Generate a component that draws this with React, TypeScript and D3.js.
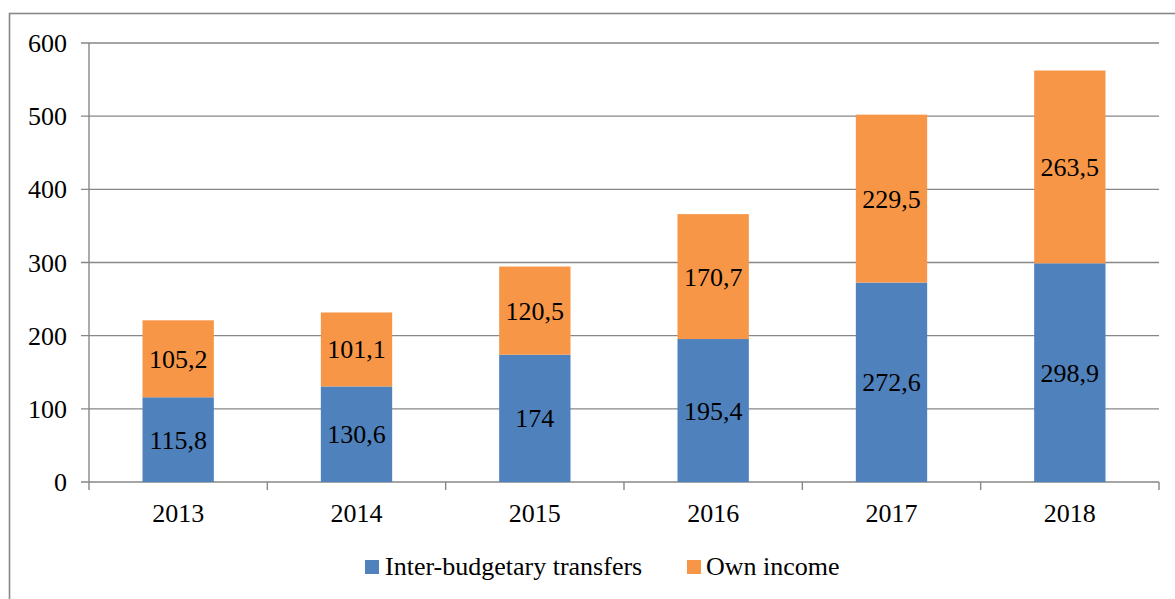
import React from "react";
import * as d3 from "d3";

const years = ["2013", "2014", "2015", "2016", "2017", "2018"];
const transfers = [115.8, 130.6, 174, 195.4, 272.6, 298.9];
const ownIncome = [105.2, 101.1, 120.5, 170.7, 229.5, 263.5];
const yTicks = [0, 100, 200, 300, 400, 500, 600];
const seriesNames = ["Inter-budgetary transfers", "Own income"];
const seriesColors = ["#4f81bd", "#f79646"];

const W = 1175;
const H = 599;
const margin = { top: 43, right: 16, bottom: 117, left: 89 };
const gray = "#878787";
const FONT = "Liberation Serif";

const fmt = (v: number) => String(v).replace(".", ",");

const Label = (props: any) => (
  <text
    fontFamily={FONT}
    fontSize={26}
    fill="#000"
    style={{ fontFamily: "'Liberation Serif'" }}
    {...props}
  />
);

const App = () => {
  const x = d3
    .scaleBand()
    .domain(years)
    .range([margin.left, W - margin.right])
    .paddingInner(0.6)
    .paddingOuter(0.3);

  const y = d3
    .scaleLinear()
    .domain([0, 600])
    .range([H - margin.bottom, margin.top]);

  const rows = years.map((yr, i) => ({ year: yr, t: transfers[i], o: ownIncome[i] }));
  const stacked = d3.stack<any>().keys(["t", "o"])(rows);

  const step = x.step();
  const x0 = margin.left;
  const x1 = W - margin.right;
  const boundaries = d3.range(years.length + 1).map((i) => x0 + i * step);

  return (
    <svg width={W} height={H} style={{ position: "absolute", left: 0, top: 0 }}>
      {/* chart frame */}
      <rect x={9.5} y={13.5} width={W + 10} height={H + 10} fill="#fff" stroke={gray} strokeWidth={1.6} />

      {/* gridlines */}
      {yTicks.map((t) => (
        <line key={t} x1={x0 - 8} x2={x1} y1={y(t)} y2={y(t)} stroke={gray} strokeWidth={1.4} />
      ))}
      <line x1={x0} x2={x0} y1={y(600)} y2={y(0)} stroke={gray} strokeWidth={1.4} />

      {/* x ticks */}
      {boundaries.map((b, i) => (
        <line key={i} x1={b} x2={b} y1={y(0)} y2={y(0) + 8} stroke={gray} strokeWidth={1.4} />
      ))}

      {/* y labels */}
      {yTicks.map((t) => (
        <Label key={t} x={67} y={y(t) + 9}>
          <tspan textAnchor="end">{t}</tspan>
        </Label>
      ))}

      {/* bars */}
      {stacked.map((s, si) =>
        s.map((d, i) => (
          <rect
            key={si + "-" + i}
            x={x(years[i])}
            y={y(d[1])}
            width={x.bandwidth()}
            height={y(d[0]) - y(d[1])}
            fill={seriesColors[si]}
          />
        ))
      )}

      {/* value labels */}
      {stacked.map((s, si) =>
        s.map((d, i) => (
          <Label
            key={"l" + si + "-" + i}
            x={(x(years[i]) as number) + x.bandwidth() / 2}
            y={(y(d[0]) + y(d[1])) / 2 + 9}
            textAnchor="middle"
          >
            {fmt(si === 0 ? transfers[i] : ownIncome[i])}
          </Label>
        ))
      )}

      {/* x labels */}
      {years.map((yr) => (
        <Label key={yr} x={(x(yr) as number) + x.bandwidth() / 2} y={522} textAnchor="middle">
          {yr}
        </Label>
      ))}

      {/* legend */}
      <rect x={365} y={560} width={14} height={14} fill={seriesColors[0]} />
      <Label x={385} y={575}>{seriesNames[0]}</Label>
      <rect x={687} y={560} width={14} height={14} fill={seriesColors[1]} />
      <Label x={706} y={575}>{seriesNames[1]}</Label>
    </svg>
  );
};

export default App;
